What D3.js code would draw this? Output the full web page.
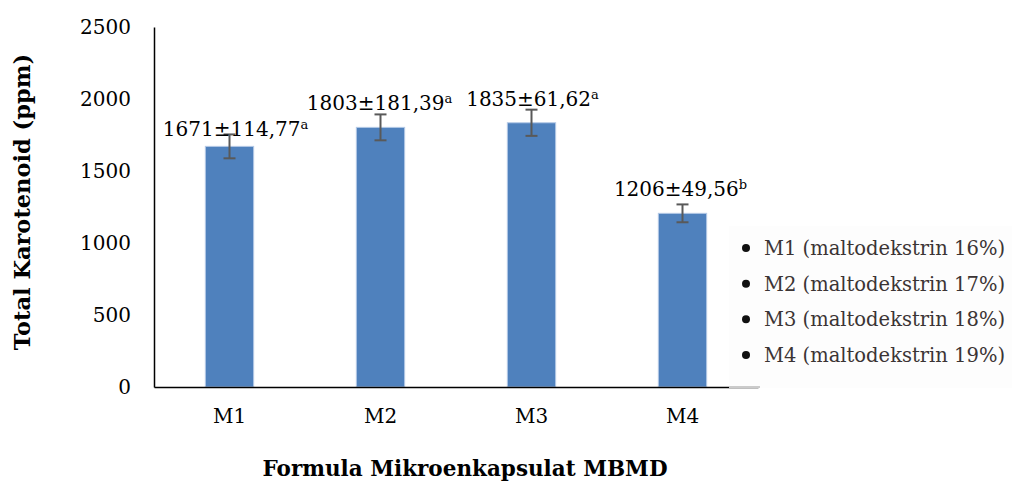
<!DOCTYPE html>
<html>
<head>
<meta charset="utf-8">
<script src="https://cdn.jsdelivr.net/npm/d3@7"></script>
<style>
  body { margin: 0; background: #fff; }
  svg { display: block; font-family: "DejaVu Serif", serif; }
</style>
</head>
<body>
<svg id="chart"></svg>
<script>
let categories = ["M1", "M2", "M3", "M4"];
let values = [1671, 1803, 1835, 1206];
// error bars as they are drawn in the picture
let errors = [83, 90, 91, 62];
let labels = ["1671±114,77", "1803±181,39", "1835±61,62", "1206±49,56"];
let letters = ["a", "a", "a", "b"];
let yTicks = [0, 500, 1000, 1500, 2000, 2500];
let legendItems = ["M1 (maltodekstrin 16%)", "M2 (maltodekstrin 17%)",
    "M3 (maltodekstrin 18%)", "M4 (maltodekstrin 19%)"];

let width = 1012,
    height = 481;

let svg = d3.select("#chart")
    .attr("width", width)
    .attr("height", height);

let x = d3.scaleBand()
    .domain(categories)
    .range([154, 758])
    .paddingInner(0.68)
    .paddingOuter(0.34);

let y = d3.scaleLinear()
    .domain([0, 2500])
    .range([387, 27]);

// y axis
let yAxis = svg.append("g")
    .attr("transform", "translate(154,0)")
    .call(d3.axisLeft(y).tickValues(yTicks).tickFormat(d3.format("d"))
        .tickSize(0).tickPadding(23));
yAxis.select(".domain").attr("stroke", "#000").attr("stroke-width", 1.5);
yAxis.selectAll("text")
    .attr("font-size", 20)
    .attr("font-family", "DejaVu Serif")
    .attr("fill", "#000");

// bars
svg.selectAll(".bar")
    .data(values)
    .enter().append("rect")
    .attr("class", "bar")
    .attr("x", (d, i) => x(categories[i]))
    .attr("y", d => y(d))
    .attr("width", x.bandwidth())
    .attr("height", d => y(0) - y(d))
    .attr("fill", "#4f81bd")
    .attr("stroke", "#b4c9e6")
    .attr("stroke-width", 1);

// error bars
let eb = svg.selectAll(".err")
    .data(values)
    .enter().append("g")
    .attr("class", "err")
    .attr("stroke", "#595959")
    .attr("stroke-width", 2);
eb.append("line")
    .attr("x1", (d, i) => x(categories[i]) + x.bandwidth() / 2)
    .attr("x2", (d, i) => x(categories[i]) + x.bandwidth() / 2)
    .attr("y1", (d, i) => y(d + errors[i]))
    .attr("y2", (d, i) => y(d - errors[i]));
eb.append("line")
    .attr("x1", (d, i) => x(categories[i]) + x.bandwidth() / 2 - 6)
    .attr("x2", (d, i) => x(categories[i]) + x.bandwidth() / 2 + 6)
    .attr("y1", (d, i) => y(d + errors[i]))
    .attr("y2", (d, i) => y(d + errors[i]));
eb.append("line")
    .attr("x1", (d, i) => x(categories[i]) + x.bandwidth() / 2 - 6)
    .attr("x2", (d, i) => x(categories[i]) + x.bandwidth() / 2 + 6)
    .attr("y1", (d, i) => y(d - errors[i]))
    .attr("y2", (d, i) => y(d - errors[i]));

// data labels
let labelDx = [6, -1, 1, -2];
let labelDy = [7, 0, 0, 0];
let lab = svg.selectAll(".lab")
    .data(values)
    .enter().append("text")
    .attr("class", "lab")
    .attr("x", (d, i) => x(categories[i]) + x.bandwidth() / 2 + labelDx[i])
    .attr("y", (d, i) => y(d) - 17 + labelDy[i])
    .attr("text-anchor", "middle")
    .attr("font-size", 20)
    .attr("fill", "#000");
lab.append("tspan").text((d, i) => labels[i]);
lab.append("tspan")
    .attr("font-size", 13)
    .attr("dy", -7)
    .text((d, i) => letters[i]);

// x axis
let xAxis = svg.append("g")
    .attr("transform", "translate(0,387)")
    .call(d3.axisBottom(x).tickSize(0).tickPadding(22));
xAxis.select(".domain").attr("stroke", "#000").attr("stroke-width", 1.5);
xAxis.selectAll("text")
    .attr("font-size", 20)
    .attr("font-family", "DejaVu Serif")
    .attr("fill", "#000");

// axis titles
svg.append("text")
    .attr("transform", "translate(30,202) rotate(-90)")
    .attr("text-anchor", "middle")
    .attr("font-weight", "bold")
    .attr("font-size", 22.5)
    .text("Total Karotenoid (ppm)");

svg.append("text")
    .attr("x", 465)
    .attr("y", 476)
    .attr("text-anchor", "middle")
    .attr("font-weight", "bold")
    .attr("font-size", 21.5)
    .text("Formula Mikroenkapsulat MBMD");

// legend (pasted box over the plot)
let legend = svg.append("g");
legend.append("rect")
    .attr("x", 729)
    .attr("y", 226)
    .attr("width", 283)
    .attr("height", 162)
    .attr("fill", "#fdfdfd");
legend.append("line")
    .attr("x1", 729).attr("x2", 760)
    .attr("y1", 387).attr("y2", 387)
    .attr("stroke", "#999").attr("stroke-width", 1);

let ly = d3.scalePoint()
    .domain(legendItems)
    .range([248, 355]);

let li = legend.selectAll(".li")
    .data(legendItems)
    .enter().append("g")
    .attr("class", "li")
    .attr("transform", d => "translate(0," + ly(d) + ")");
li.append("circle")
    .attr("cx", 746)
    .attr("cy", 0)
    .attr("r", 4)
    .attr("fill", "#111");
li.append("text")
    .attr("x", 764)
    .attr("y", 7)
    .attr("font-size", 19.5)
    .attr("fill", "#3b3434")
    .text(d => d);
</script>
</body>
</html>
